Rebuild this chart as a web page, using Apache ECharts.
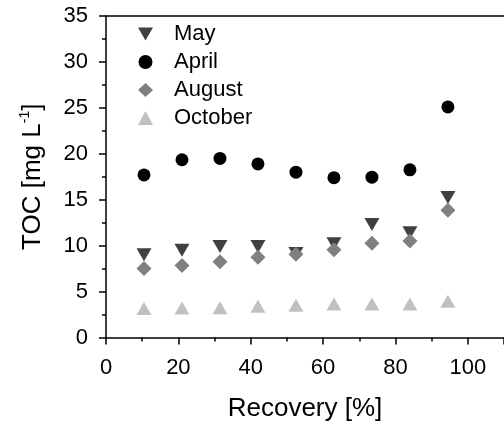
<!DOCTYPE html>
<html>
<head>
<meta charset="utf-8">
<script src="https://cdn.jsdelivr.net/npm/echarts@6/dist/echarts.min.js"></script>
<style>
  html, body { margin: 0; padding: 0; background: #fff; }
  #chart { width: 504px; height: 427px; }
</style>
</head>
<body>
<div id="chart"></div>
<script>
// recovery [%] of each sample
var recovery = [10.5, 21, 31.5, 42, 52.5, 63, 73.5, 84, 94.5];
// TOC [mg/L] per campaign
var tocMay = [9.0, 9.5, 9.9, 9.9, 9.15, 10.2, 12.3, 11.4, 15.25];
var tocApril = [17.7, 19.35, 19.5, 18.9, 18.0, 17.4, 17.45, 18.25, 25.1];
var tocAugust = [7.5, 7.85, 8.25, 8.75, 9.05, 9.55, 10.25, 10.5, 13.85];
var tocOctober = [3.15, 3.2, 3.25, 3.4, 3.5, 3.65, 3.65, 3.65, 3.95];
var seriesNames = ["May", "April", "August", "October"];

function pairs(ys) {
  return recovery.map(function (x, i) { return [x, ys[i]]; });
}

var chart = echarts.init(document.getElementById("chart"));
var font = "Liberation Sans, Arial, sans-serif";
var axisCol = "#000";
// downward triangle for the legend (legend does not rotate symbols)
var downTri = "path://M0,0 L30,0 L15,26 Z";

chart.setOption({
  animation: false,
  grid: { left: 106, top: 16, width: 404, height: 321.5 },
  legend: {
    data: [
      { name: "May", icon: downTri },
      { name: "April" },
      { name: "August" },
      { name: "October" }
    ],
    orient: "vertical",
    left: 133,
    top: 18,
    itemWidth: 15,
    itemHeight: 14,
    itemGap: 6,
    textStyle: {
      fontFamily: font,
      fontSize: 22,
      lineHeight: 22,
      color: "#000",
      padding: [0, 0, 0, 16]
    }
  },
  xAxis: [
    {
      type: "value",
      min: 0,
      max: 110,
      interval: 20,
      name: "Recovery [%]",
      nameLocation: "middle",
      nameGap: 58,
      nameTextStyle: { fontFamily: font, fontSize: 26, color: "#000" },
      axisLine: { onZero: false, lineStyle: { color: axisCol, width: 1.5 } },
      axisTick: { length: 7, lineStyle: { color: axisCol, width: 1.5 } },
      minorTick: { show: true, splitNumber: 2, length: 4, lineStyle: { color: axisCol, width: 1.5 } },
      axisLabel: { fontFamily: font, fontSize: 22, color: "#000", margin: 19, showMaxLabel: false },
      splitLine: { show: false }
    },
    {
      type: "value",
      position: "top",
      min: 0,
      max: 110,
      axisLine: { show: true, onZero: false, lineStyle: { color: axisCol, width: 1.5 } },
      axisTick: { show: false },
      axisLabel: { show: false },
      splitLine: { show: false }
    }
  ],
  yAxis: {
    type: "value",
    min: 0,
    max: 35,
    interval: 5,
    name: "{n|TOC [mg L}{s|-1}{n|]}",
    nameLocation: "middle",
    nameRotate: 90,
    nameGap: 58,
    nameTextStyle: {
      rich: {
        n: { fontFamily: font, fontSize: 26, color: "#000", lineHeight: 30 },
        s: { fontFamily: font, fontSize: 14, color: "#000", verticalAlign: "top", lineHeight: 30 }
      }
    },
    axisLine: { show: true, onZero: false, lineStyle: { color: axisCol, width: 1.5 } },
    axisTick: { length: 7, lineStyle: { color: axisCol, width: 1.5 } },
    minorTick: { show: true, splitNumber: 2, length: 4, lineStyle: { color: axisCol, width: 1.5 } },
    axisLabel: { fontFamily: font, fontSize: 22, color: "#000", margin: 18 },
    splitLine: { show: false }
  },
  series: [
    {
      name: "May",
      type: "scatter",
      data: pairs(tocMay),
      symbol: "triangle",
      symbolRotate: 180,
      symbolSize: [15, 13],
      itemStyle: { color: "#404040", opacity: 1 }
    },
    {
      name: "April",
      type: "scatter",
      data: pairs(tocApril),
      symbol: "circle",
      symbolSize: 13,
      itemStyle: { color: "#000000", opacity: 1 }
    },
    {
      name: "August",
      type: "scatter",
      data: pairs(tocAugust),
      symbol: "diamond",
      symbolSize: [15, 15],
      itemStyle: { color: "#808080", opacity: 1 }
    },
    {
      name: "October",
      type: "scatter",
      data: pairs(tocOctober),
      symbol: "triangle",
      symbolSize: [15, 13],
      itemStyle: { color: "#c0c0c0", opacity: 1 }
    }
  ]
});
</script>
</body>
</html>
